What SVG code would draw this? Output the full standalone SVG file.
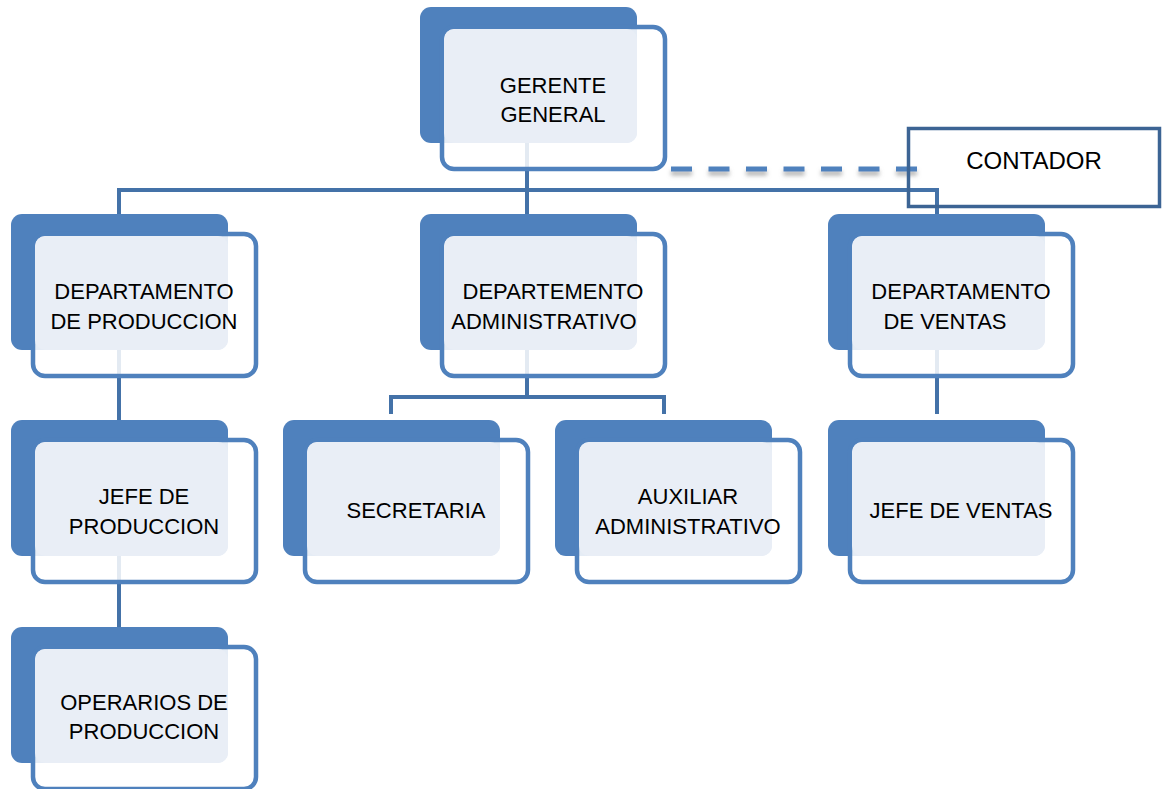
<svg xmlns="http://www.w3.org/2000/svg" width="1165" height="789" viewBox="0 0 1165 789">
<style>
.back{fill:#4F81BD}
.front{fill:#FFFFFF;fill-opacity:0.85;stroke:#4F81BD;stroke-width:4.5}
.light{fill:#E9EEF6}
.conn{fill:none;stroke:#4472A8;stroke-width:4}
.lbl{font-family:"Liberation Sans",Arial,sans-serif;font-size:22px;fill:#000;text-anchor:middle}
</style>
<defs>
<filter id="sh" filterUnits="userSpaceOnUse" x="640" y="150" width="300" height="40">
<feDropShadow dx="0" dy="4" stdDeviation="2" flood-color="#808080" flood-opacity="0.6"/>
</filter>
</defs>
<rect width="1165" height="789" fill="#FFFFFF"/>
<g id="connectors">
<path class="conn" d="M527 143 V214"/>
<path class="conn" d="M119 214 V190 H937 V214"/>
<path class="conn" d="M119 349 V420"/>
<path class="conn" d="M119 555 V627"/>
<path class="conn" d="M527 349 V397"/>
<path class="conn" d="M391 414 V397 H664 V414"/>
<path class="conn" d="M937 349 V414"/>
<path d="M671 169 H917" fill="none" stroke="#4F81BD" stroke-width="5" stroke-dasharray="21 16.5" filter="url(#sh)"/>
</g>
<g id="gerente" transform="translate(420,7)">
<rect class="back" x="0" y="0" width="217" height="136" rx="11"/>
<rect class="front" x="22" y="20" width="223" height="142" rx="12"/>
<rect class="light" x="24" y="22" width="193" height="114" rx="10"/>
<text class="lbl" x="133" y="86">GERENTE</text>
<text class="lbl" x="133" y="115">GENERAL</text>
</g>
<g id="contador">
<rect x="908.5" y="128.5" width="251" height="78" fill="none" stroke="#3C6494" stroke-width="3.5"/>
<text x="1034" y="169" font-family="Liberation Sans,Arial,sans-serif" font-size="24" text-anchor="middle" fill="#000">CONTADOR</text>
</g>
<g id="dep-produccion" transform="translate(11,214)">
<rect class="back" x="0" y="0" width="217" height="136" rx="11"/>
<rect class="front" x="22" y="20" width="223" height="142" rx="12"/>
<rect class="light" x="24" y="22" width="193" height="114" rx="10"/>
<text class="lbl" x="133" y="85">DEPARTAMENTO</text>
<text class="lbl" x="133" y="115">DE PRODUCCION</text>
</g>
<g id="dep-administrativo" transform="translate(420,214)">
<rect class="back" x="0" y="0" width="217" height="136" rx="11"/>
<rect class="front" x="22" y="20" width="223" height="142" rx="12"/>
<rect class="light" x="24" y="22" width="193" height="114" rx="10"/>
<text class="lbl" x="133" y="85">DEPARTEMENTO</text>
<text class="lbl" x="124" y="115">ADMINISTRATIVO</text>
</g>
<g id="dep-ventas" transform="translate(828,214)">
<rect class="back" x="0" y="0" width="217" height="136" rx="11"/>
<rect class="front" x="22" y="20" width="223" height="142" rx="12"/>
<rect class="light" x="24" y="22" width="193" height="114" rx="10"/>
<text class="lbl" x="133" y="85">DEPARTAMENTO</text>
<text class="lbl" x="117" y="115">DE VENTAS</text>
</g>
<g id="jefe-produccion" transform="translate(11,420)">
<rect class="back" x="0" y="0" width="217" height="136" rx="11"/>
<rect class="front" x="22" y="20" width="223" height="142" rx="12"/>
<rect class="light" x="24" y="22" width="193" height="114" rx="10"/>
<text class="lbl" x="133" y="84">JEFE DE</text>
<text class="lbl" x="133" y="114">PRODUCCION</text>
</g>
<g id="secretaria" transform="translate(283,420)">
<rect class="back" x="0" y="0" width="217" height="136" rx="11"/>
<rect class="front" x="22" y="20" width="223" height="142" rx="12"/>
<rect class="light" x="24" y="22" width="193" height="114" rx="10"/>
<text class="lbl" x="133" y="98">SECRETARIA</text>
</g>
<g id="auxiliar" transform="translate(555,420)">
<rect class="back" x="0" y="0" width="217" height="136" rx="11"/>
<rect class="front" x="22" y="20" width="223" height="142" rx="12"/>
<rect class="light" x="24" y="22" width="193" height="114" rx="10"/>
<text class="lbl" x="133" y="84">AUXILIAR</text>
<text class="lbl" x="133" y="114">ADMINISTRATIVO</text>
</g>
<g id="jefe-ventas" transform="translate(828,420)">
<rect class="back" x="0" y="0" width="217" height="136" rx="11"/>
<rect class="front" x="22" y="20" width="223" height="142" rx="12"/>
<rect class="light" x="24" y="22" width="193" height="114" rx="10"/>
<text class="lbl" x="133" y="98">JEFE DE VENTAS</text>
</g>
<g id="operarios" transform="translate(11,627)">
<rect class="back" x="0" y="0" width="217" height="136" rx="11"/>
<rect class="front" x="22" y="20" width="223" height="142" rx="12"/>
<rect class="light" x="24" y="22" width="193" height="114" rx="10"/>
<text class="lbl" x="133" y="83">OPERARIOS DE</text>
<text class="lbl" x="133" y="112">PRODUCCION</text>
</g>
</svg>
